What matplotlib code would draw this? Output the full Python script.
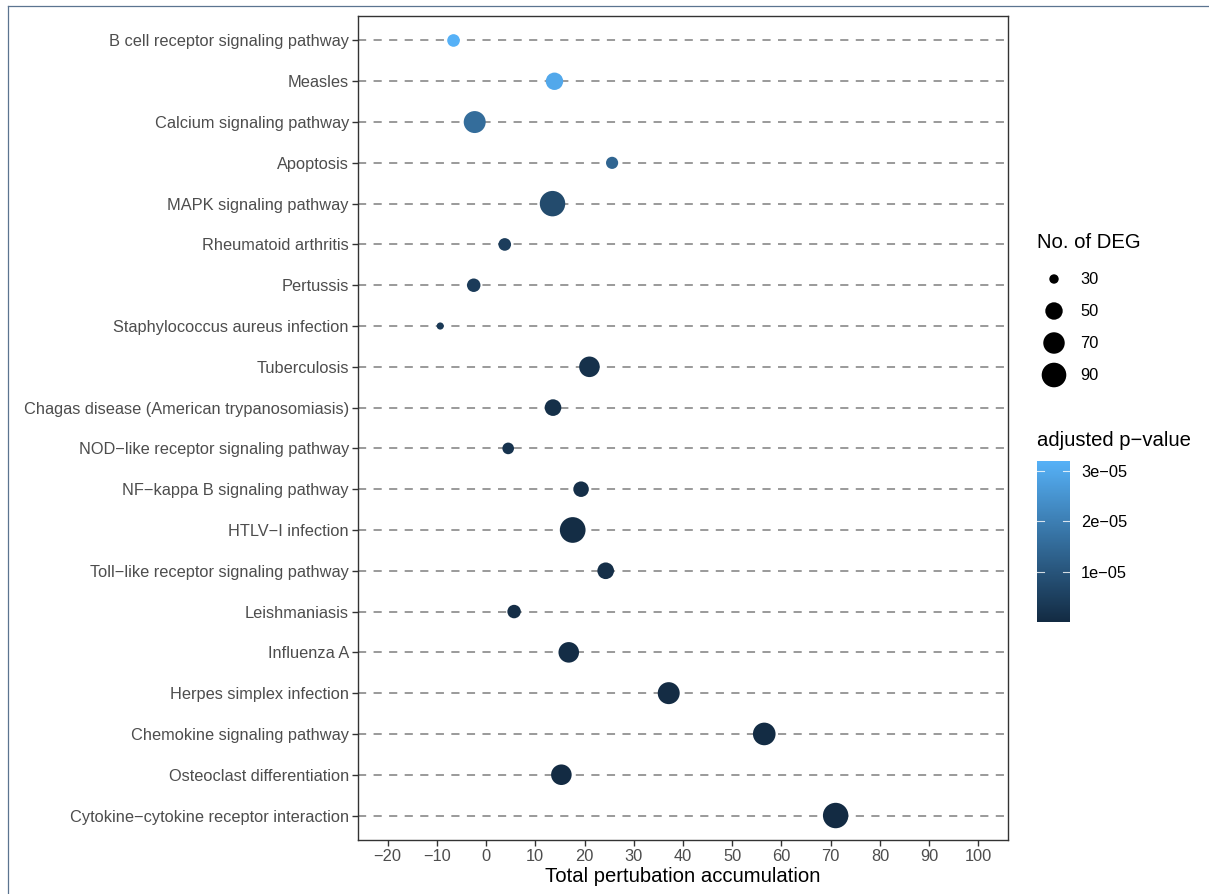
import numpy as np
import matplotlib
matplotlib.use("Agg")
import matplotlib.pyplot as plt
from matplotlib.colors import LinearSegmentedColormap, Normalize
from matplotlib.lines import Line2D

plt.rcParams['font.family'] = ['Liberation Sans', 'DejaVu Sans']

# data, top to bottom as in the chart
pathways = [
    "B cell receptor signaling pathway",
    "Measles",
    "Calcium signaling pathway",
    "Apoptosis",
    "MAPK signaling pathway",
    "Rheumatoid arthritis",
    "Pertussis",
    "Staphylococcus aureus infection",
    "Tuberculosis",
    "Chagas disease (American trypanosomiasis)",
    "NOD\u2212like receptor signaling pathway",
    "NF\u2212kappa B signaling pathway",
    "HTLV\u2212I infection",
    "Toll\u2212like receptor signaling pathway",
    "Leishmaniasis",
    "Influenza A",
    "Herpes simplex infection",
    "Chemokine signaling pathway",
    "Osteoclast differentiation",
    "Cytokine\u2212cytokine receptor interaction",
]
accumulation = [-6.6, 13.9, -2.3, 25.6, 13.5, 3.8, -2.5, -9.3, 21.0, 13.6,
                4.5, 19.3, 17.6, 24.3, 5.7, 16.8, 37.1, 56.5, 15.3, 71.0]
n_deg = [35, 50, 73, 34, 96, 35, 37, 29, 65, 47,
         33, 43, 98, 47, 37, 65, 73, 77, 65, 96]
p_adj = [3.2e-5, 2.98e-5, 1.57e-5, 1.4e-5, 0.76e-5, 0.45e-5, 0.4e-5, 0.35e-5, 0.15e-5, 0.12e-5,
         0.2e-5, 0.1e-5, 0.05e-5, 0.1e-5, 0.08e-5, 0.06e-5, 0.03e-5, 0.02e-5, 0.01e-5, 0.001e-5]

x_ticks = list(range(-20, 101, 10))
size_breaks = [30, 50, 70, 90]
p_breaks = [1e-5, 2e-5, 3e-5]

DPI = 100
W, H = 1209, 894
TXT = 11.8   # tick / legend label size
TTL = 14.6   # axis / legend title size

cmap = LinearSegmentedColormap.from_list("gg", ["#132B43", "#56B1F7"])
norm = Normalize(vmin=min(p_adj), vmax=max(p_adj))

deg_min, deg_max = min(n_deg), max(n_deg)


def marker_area(v):
    # ggplot-like area scale: radius in pixels -> scatter area in pt^2
    r = 3.58 + 9.28 * np.sqrt((np.asarray(v, float) - deg_min) / (deg_max - deg_min))
    return (2 * r * 72 / DPI) ** 2


fig = plt.figure(figsize=(W / DPI, H / DPI), dpi=DPI)

ax = fig.add_axes([358 / W, 1 - 840 / H, 650 / W, 824 / H])
n = len(pathways)
ypos = np.arange(n)[::-1]

for y in ypos:
    ax.axhline(y, color="#9a9a9a", lw=1.4, linestyle=(0, (4.2, 3.8)), zorder=1)

ax.scatter(accumulation, ypos, s=marker_area(n_deg), c=p_adj, cmap=cmap, norm=norm,
           linewidths=0, zorder=3)

ax.set_xlim(-26, 106)
ax.set_ylim(-0.6, n - 1 + 0.6)
ax.set_xticks(x_ticks)
ax.set_yticks(ypos)
ax.set_yticklabels(pathways)
ax.tick_params(axis="both", colors="#333333", length=4, width=1, labelcolor="#4D4D4D",
               labelsize=TXT, pad=2.5)
for s in ax.spines.values():
    s.set_color("#333333")
    s.set_linewidth(1.0)
ax.set_xlabel("Total pertubation accumulation", fontsize=TTL, color="black", labelpad=2)

# overlay in pixel coords for the size legend
lax = fig.add_axes([0, 0, 1, 1])
lax.set_xlim(0, W)
lax.set_ylim(H, 0)
lax.axis("off")
lax.text(1037, 243, "No. of DEG", fontsize=TTL, ha="left", va="center")
leg_y = [279, 311, 343, 375]
lax.scatter([1054] * len(size_breaks), leg_y, s=marker_area(size_breaks), color="black",
            linewidths=0)
for yy, b in zip(leg_y, size_breaks):
    lax.text(1080, yy, str(b), fontsize=TXT, ha="left", va="center")
lax.text(1037, 441, "adjusted p\u2212value", fontsize=TTL, ha="left", va="center")

# border lines around the figure
fig.add_artist(Line2D([8 / W, 8 / W], [0, 1 - 6 / H], color="#5b7490", lw=0.9))
fig.add_artist(Line2D([8 / W, 1], [1 - 6 / H, 1 - 6 / H], color="#5b7490", lw=0.9))

# colour bar
cax = fig.add_axes([1037 / W, 1 - 622 / H, 33 / W, 161 / H])
grad = np.linspace(norm.vmin, norm.vmax, 300).reshape(-1, 1)
cax.imshow(grad, aspect="auto", cmap=cmap, norm=norm, origin="lower",
           extent=[0, 1, norm.vmin, norm.vmax])
cax.set_xlim(0, 1)
cax.set_ylim(norm.vmin, norm.vmax)
for b in p_breaks:
    cax.plot([0, 0.2], [b, b], color="white", lw=0.8, alpha=0.8)
    cax.plot([0.8, 1], [b, b], color="white", lw=0.8, alpha=0.8)
cax.set_xticks([])
cax.yaxis.tick_right()
cax.set_yticks(p_breaks)
cax.set_yticklabels(["1e\u221205", "2e\u221205", "3e\u221205"])
cax.tick_params(axis="y", length=0, labelsize=TXT, pad=8)
for s in cax.spines.values():
    s.set_visible(False)

fig.savefig("out.png", dpi=DPI)
